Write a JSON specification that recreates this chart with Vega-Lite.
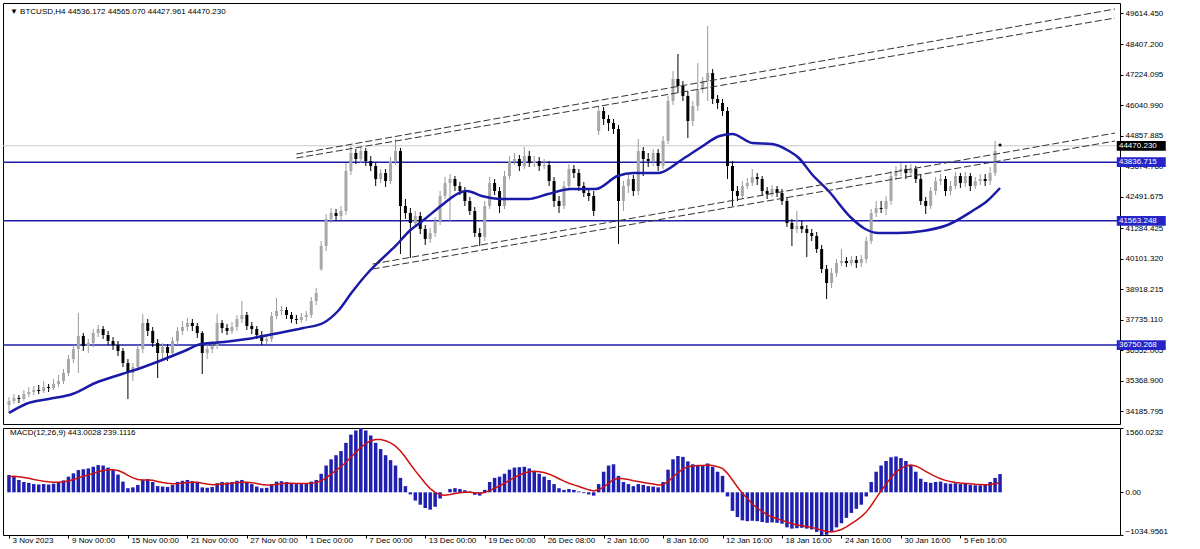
{
  "$schema": "https://vega.github.io/schema/vega-lite/v6.json",
  "padding": {"left": 1, "top": 2, "right": 0, "bottom": 0},
  "background": "#ffffff",
  "spacing": 2,
  "config": {
    "font": "Liberation Sans",
    "view": {"stroke": "#000000", "strokeWidth": 1},
    "axis": {"labelFont": "Liberation Sans", "labelFontSize": 8, "labelColor": "#000000", "tickColor": "#000000", "tickSize": 3, "domain": false, "grid": false, "title": null, "labelOverlap": false}
  },
  "datasets": {
    "bars": [
      {"i":0,"o":34428,"h":34738,"l":34118,"c":34583,"m":420,"s":380},
      {"i":1,"o":34583,"h":34854,"l":34467,"c":34699,"m":380,"s":390},
      {"i":2,"o":34699,"h":34815,"l":34506,"c":34660,"m":300,"s":380},
      {"i":3,"o":34660,"h":35009,"l":34583,"c":34854,"m":250,"s":360},
      {"i":4,"o":34854,"h":35125,"l":34738,"c":34932,"m":230,"s":340},
      {"i":5,"o":34932,"h":35164,"l":34815,"c":35009,"m":200,"s":310},
      {"i":6,"o":35009,"h":35203,"l":34854,"c":34970,"m":190,"s":290},
      {"i":7,"o":34970,"h":35358,"l":34893,"c":35125,"m":200,"s":270},
      {"i":8,"o":35125,"h":35242,"l":34932,"c":35087,"m":190,"s":255},
      {"i":9,"o":35087,"h":35435,"l":35009,"c":35242,"m":210,"s":245},
      {"i":10,"o":35242,"h":35590,"l":35125,"c":35358,"m":240,"s":245},
      {"i":11,"o":35358,"h":35823,"l":35242,"c":35668,"m":290,"s":255},
      {"i":12,"o":35668,"h":36365,"l":35551,"c":36210,"m":380,"s":275},
      {"i":13,"o":36210,"h":36752,"l":36055,"c":36597,"m":460,"s":310},
      {"i":14,"o":36597,"h":37992,"l":35668,"c":37101,"m":540,"s":350},
      {"i":15,"o":37101,"h":37217,"l":36520,"c":36714,"m":560,"s":390},
      {"i":16,"o":36714,"h":36985,"l":36443,"c":36830,"m":580,"s":420},
      {"i":17,"o":36830,"h":37372,"l":36675,"c":37217,"m":620,"s":460},
      {"i":18,"o":37217,"h":37527,"l":37062,"c":37372,"m":660,"s":500},
      {"i":19,"o":37372,"h":37488,"l":36985,"c":37140,"m":650,"s":530},
      {"i":20,"o":37140,"h":37295,"l":36752,"c":36907,"m":600,"s":550},
      {"i":21,"o":36907,"h":37062,"l":36559,"c":36752,"m":540,"s":550},
      {"i":22,"o":36752,"h":36907,"l":36326,"c":36520,"m":430,"s":530},
      {"i":23,"o":36520,"h":36636,"l":35900,"c":36055,"m":260,"s":480},
      {"i":24,"o":36055,"h":36210,"l":34660,"c":35668,"m":100,"s":410},
      {"i":25,"o":35668,"h":36055,"l":35358,"c":35900,"m":120,"s":350},
      {"i":26,"o":35900,"h":36752,"l":35745,"c":36597,"m":180,"s":310},
      {"i":27,"o":36597,"h":37953,"l":36443,"c":37605,"m":300,"s":300},
      {"i":28,"o":37605,"h":37760,"l":37101,"c":37295,"m":320,"s":300},
      {"i":29,"o":37295,"h":37450,"l":36675,"c":36830,"m":250,"s":290},
      {"i":30,"o":36830,"h":36985,"l":35474,"c":36443,"m":150,"s":265},
      {"i":31,"o":36443,"h":36830,"l":36210,"c":36675,"m":140,"s":240},
      {"i":32,"o":36675,"h":36791,"l":36133,"c":36443,"m":130,"s":220},
      {"i":33,"o":36443,"h":37062,"l":36288,"c":36907,"m":180,"s":210},
      {"i":34,"o":36907,"h":37450,"l":36752,"c":37295,"m":250,"s":215},
      {"i":35,"o":37295,"h":37682,"l":37140,"c":37450,"m":280,"s":225},
      {"i":36,"o":37450,"h":37798,"l":37295,"c":37605,"m":300,"s":240},
      {"i":37,"o":37605,"h":37760,"l":37295,"c":37488,"m":270,"s":245},
      {"i":38,"o":37488,"h":37605,"l":37024,"c":37217,"m":230,"s":245},
      {"i":39,"o":37217,"h":37295,"l":35629,"c":36443,"m":120,"s":220},
      {"i":40,"o":36443,"h":36791,"l":36210,"c":36597,"m":110,"s":200},
      {"i":41,"o":36597,"h":36907,"l":36443,"c":36714,"m":130,"s":185},
      {"i":42,"o":36714,"h":37953,"l":36597,"c":37605,"m":220,"s":190},
      {"i":43,"o":37605,"h":37721,"l":37217,"c":37411,"m":250,"s":200},
      {"i":44,"o":37411,"h":37566,"l":37140,"c":37295,"m":240,"s":210},
      {"i":45,"o":37295,"h":37643,"l":37179,"c":37450,"m":250,"s":220},
      {"i":46,"o":37450,"h":37915,"l":37295,"c":37760,"m":280,"s":230},
      {"i":47,"o":37760,"h":38457,"l":37605,"c":37915,"m":300,"s":245},
      {"i":48,"o":37915,"h":38031,"l":37334,"c":37488,"m":250,"s":245},
      {"i":49,"o":37488,"h":37643,"l":37179,"c":37372,"m":200,"s":235},
      {"i":50,"o":37372,"h":37488,"l":36985,"c":37140,"m":140,"s":215},
      {"i":51,"o":37140,"h":37295,"l":36752,"c":36907,"m":100,"s":190},
      {"i":52,"o":36907,"h":37179,"l":36791,"c":36985,"m":110,"s":175},
      {"i":53,"o":36985,"h":38031,"l":36869,"c":37876,"m":200,"s":180},
      {"i":54,"o":37876,"h":38573,"l":37760,"c":38070,"m":260,"s":195},
      {"i":55,"o":38070,"h":38263,"l":37915,"c":38108,"m":270,"s":210},
      {"i":56,"o":38108,"h":38225,"l":37760,"c":37915,"m":250,"s":220},
      {"i":57,"o":37915,"h":38031,"l":37605,"c":37760,"m":220,"s":220},
      {"i":58,"o":37760,"h":37915,"l":37566,"c":37721,"m":200,"s":215},
      {"i":59,"o":37721,"h":37992,"l":37605,"c":37837,"m":200,"s":212},
      {"i":60,"o":37837,"h":38070,"l":37682,"c":37915,"m":210,"s":212},
      {"i":61,"o":37915,"h":38612,"l":37798,"c":38457,"m":260,"s":220},
      {"i":62,"o":38457,"h":38961,"l":38302,"c":38767,"m":300,"s":235},
      {"i":63,"o":39697,"h":40781,"l":39619,"c":40588,"m":450,"s":280},
      {"i":64,"o":40588,"h":41827,"l":40394,"c":41634,"m":650,"s":350},
      {"i":65,"o":41634,"h":42060,"l":41479,"c":41866,"m":800,"s":440},
      {"i":66,"o":41866,"h":42021,"l":41556,"c":41750,"m":900,"s":530},
      {"i":67,"o":41750,"h":42137,"l":41595,"c":41944,"m":1000,"s":620},
      {"i":68,"o":41944,"h":43803,"l":41789,"c":43493,"m":1200,"s":730},
      {"i":69,"o":43493,"h":44462,"l":43338,"c":44191,"m":1400,"s":850},
      {"i":70,"o":44191,"h":44345,"l":43764,"c":43958,"m":1500,"s":970},
      {"i":71,"o":43958,"h":44423,"l":43803,"c":44268,"m":1560.0232,"s":1090},
      {"i":72,"o":44268,"h":44384,"l":43687,"c":43881,"m":1500,"s":1180},
      {"i":73,"o":43881,"h":44074,"l":43493,"c":43687,"m":1380,"s":1250},
      {"i":74,"o":43687,"h":43803,"l":42912,"c":43183,"m":1200,"s":1280},
      {"i":75,"o":43183,"h":43571,"l":43028,"c":43416,"m":1050,"s":1280},
      {"i":76,"o":43416,"h":43571,"l":42873,"c":43106,"m":900,"s":1250},
      {"i":77,"o":43106,"h":44036,"l":42990,"c":43881,"m":780,"s":1200},
      {"i":78,"o":43881,"h":44733,"l":43726,"c":44268,"m":650,"s":1120},
      {"i":79,"o":44268,"h":44384,"l":40278,"c":42137,"m":350,"s":1000},
      {"i":80,"o":42137,"h":42408,"l":41634,"c":41866,"m":150,"s":850},
      {"i":81,"o":41866,"h":42060,"l":40123,"c":41479,"m":-50,"s":680},
      {"i":82,"o":41479,"h":41944,"l":41324,"c":41750,"m":-200,"s":520},
      {"i":83,"o":41750,"h":41905,"l":41053,"c":41246,"m":-300,"s":370},
      {"i":84,"o":41246,"h":41401,"l":40626,"c":40859,"m":-380,"s":220},
      {"i":85,"o":40859,"h":41285,"l":40704,"c":41091,"m":-420,"s":90},
      {"i":86,"o":41091,"h":41711,"l":40936,"c":41556,"m":-350,"s":0},
      {"i":87,"o":41556,"h":42718,"l":41401,"c":42525,"m":-150,"s":-60},
      {"i":88,"o":42525,"h":43261,"l":42408,"c":43028,"m":0,"s":-70},
      {"i":89,"o":43028,"h":43377,"l":41556,"c":43183,"m":80,"s":-55},
      {"i":90,"o":43183,"h":43299,"l":42718,"c":42912,"m":100,"s":-30},
      {"i":91,"o":42912,"h":43067,"l":42563,"c":42718,"m":80,"s":-10},
      {"i":92,"o":42718,"h":42873,"l":42137,"c":42331,"m":50,"s":0},
      {"i":93,"o":42331,"h":42486,"l":41789,"c":41944,"m":20,"s":0},
      {"i":94,"o":41944,"h":42099,"l":40936,"c":41091,"m":-60,"s":-10},
      {"i":95,"o":41091,"h":41285,"l":40588,"c":40936,"m":-80,"s":-20},
      {"i":96,"o":40936,"h":42331,"l":40781,"c":42137,"m":60,"s":-5},
      {"i":97,"o":42137,"h":43261,"l":42021,"c":43028,"m":250,"s":40},
      {"i":98,"o":43028,"h":43183,"l":42563,"c":42718,"m":350,"s":100},
      {"i":99,"o":42718,"h":42873,"l":41866,"c":42137,"m":380,"s":160},
      {"i":100,"o":42137,"h":43493,"l":42021,"c":43299,"m":450,"s":220},
      {"i":101,"o":43299,"h":44074,"l":43183,"c":43881,"m":550,"s":290},
      {"i":102,"o":43881,"h":44191,"l":43726,"c":43958,"m":600,"s":360},
      {"i":103,"o":43958,"h":44113,"l":43493,"c":43687,"m":610,"s":420},
      {"i":104,"o":43687,"h":44423,"l":43571,"c":44074,"m":620,"s":470},
      {"i":105,"o":44074,"h":44268,"l":43648,"c":43803,"m":580,"s":500},
      {"i":106,"o":43803,"h":44074,"l":43648,"c":43881,"m":520,"s":510},
      {"i":107,"o":43881,"h":44036,"l":43493,"c":43687,"m":450,"s":500},
      {"i":108,"o":43687,"h":43958,"l":43571,"c":43726,"m":380,"s":480},
      {"i":109,"o":43726,"h":43881,"l":42912,"c":43106,"m":300,"s":440},
      {"i":110,"o":43106,"h":43261,"l":42099,"c":42331,"m":200,"s":390},
      {"i":111,"o":42331,"h":42525,"l":41866,"c":42137,"m":100,"s":330},
      {"i":112,"o":42137,"h":43106,"l":42021,"c":42912,"m":60,"s":270},
      {"i":113,"o":42912,"h":43764,"l":42796,"c":43571,"m":80,"s":220},
      {"i":114,"o":43571,"h":43726,"l":43222,"c":43416,"m":60,"s":180},
      {"i":115,"o":43416,"h":43571,"l":42718,"c":42912,"m":20,"s":140},
      {"i":116,"o":42912,"h":43067,"l":42486,"c":42641,"m":-20,"s":100},
      {"i":117,"o":42641,"h":42796,"l":42331,"c":42525,"m":-50,"s":60},
      {"i":118,"o":42525,"h":42718,"l":41750,"c":41944,"m":-80,"s":30},
      {"i":119,"o":45043,"h":46011,"l":44888,"c":45818,"m":200,"s":60},
      {"i":120,"o":45818,"h":45973,"l":45275,"c":45508,"m":500,"s":130},
      {"i":121,"o":45508,"h":45663,"l":45043,"c":45353,"m":650,"s":220},
      {"i":122,"o":45353,"h":45508,"l":44927,"c":45120,"m":680,"s":310},
      {"i":123,"o":45120,"h":45275,"l":40665,"c":42331,"m":400,"s":340},
      {"i":124,"o":42331,"h":43106,"l":41944,"c":42912,"m":250,"s":330},
      {"i":125,"o":42912,"h":43416,"l":42641,"c":43183,"m":200,"s":310},
      {"i":126,"o":43183,"h":43338,"l":42525,"c":42718,"m":150,"s":280},
      {"i":127,"o":42718,"h":44733,"l":42563,"c":44268,"m":200,"s":260},
      {"i":128,"o":44268,"h":44423,"l":43299,"c":43958,"m":180,"s":240},
      {"i":129,"o":43958,"h":44191,"l":43648,"c":43881,"m":150,"s":220},
      {"i":130,"o":43881,"h":44345,"l":43687,"c":44191,"m":140,"s":200},
      {"i":131,"o":44191,"h":44345,"l":43493,"c":43687,"m":120,"s":180},
      {"i":132,"o":43687,"h":44849,"l":43571,"c":44655,"m":250,"s":190},
      {"i":133,"o":44655,"h":46399,"l":44539,"c":46205,"m":550,"s":260},
      {"i":134,"o":46205,"h":47367,"l":46050,"c":47057,"m":800,"s":370},
      {"i":135,"o":47057,"h":48026,"l":46515,"c":46786,"m":880,"s":480},
      {"i":136,"o":46786,"h":46980,"l":46205,"c":46399,"m":860,"s":570},
      {"i":137,"o":46399,"h":46592,"l":44772,"c":45430,"m":750,"s":620},
      {"i":138,"o":45430,"h":46205,"l":45236,"c":46011,"m":680,"s":640},
      {"i":139,"o":46011,"h":47677,"l":45818,"c":46670,"m":650,"s":650},
      {"i":140,"o":46670,"h":47135,"l":46515,"c":46980,"m":660,"s":650},
      {"i":141,"o":46980,"h":49110,"l":46205,"c":47290,"m":700,"s":660},
      {"i":142,"o":47290,"h":47445,"l":46089,"c":46282,"m":620,"s":650},
      {"i":143,"o":46282,"h":46437,"l":45895,"c":46128,"m":500,"s":620},
      {"i":144,"o":46128,"h":46282,"l":45624,"c":45818,"m":400,"s":580},
      {"i":145,"o":45818,"h":45973,"l":43183,"c":43687,"m":-100,"s":460},
      {"i":146,"o":43687,"h":43881,"l":42137,"c":42718,"m":-450,"s":300},
      {"i":147,"o":42718,"h":42912,"l":42331,"c":42525,"m":-600,"s":130},
      {"i":148,"o":42525,"h":43106,"l":42408,"c":42912,"m":-680,"s":-20},
      {"i":149,"o":42912,"h":43222,"l":42796,"c":43028,"m":-700,"s":-150},
      {"i":150,"o":43028,"h":43571,"l":42912,"c":43261,"m":-690,"s":-280},
      {"i":151,"o":43261,"h":43416,"l":42951,"c":43183,"m":-700,"s":-380},
      {"i":152,"o":43183,"h":43299,"l":42525,"c":42718,"m":-720,"s":-470},
      {"i":153,"o":42718,"h":42873,"l":42408,"c":42602,"m":-740,"s":-540},
      {"i":154,"o":42602,"h":42951,"l":42486,"c":42796,"m":-730,"s":-600},
      {"i":155,"o":42796,"h":42912,"l":42486,"c":42641,"m":-740,"s":-640},
      {"i":156,"o":42641,"h":42796,"l":42176,"c":42331,"m":-760,"s":-680},
      {"i":157,"o":42331,"h":42486,"l":41324,"c":41479,"m":-850,"s":-720},
      {"i":158,"o":41479,"h":41634,"l":40588,"c":41246,"m":-880,"s":-760},
      {"i":159,"o":41246,"h":41944,"l":41091,"c":41362,"m":-870,"s":-790},
      {"i":160,"o":41362,"h":41556,"l":41091,"c":41246,"m":-860,"s":-810},
      {"i":161,"o":41246,"h":41401,"l":40162,"c":41091,"m":-880,"s":-830},
      {"i":162,"o":41091,"h":41246,"l":40781,"c":40975,"m":-900,"s":-850},
      {"i":163,"o":40975,"h":41130,"l":40317,"c":40471,"m":-960,"s":-880},
      {"i":164,"o":40471,"h":40626,"l":39542,"c":39697,"m":-1034.9561,"s":-920},
      {"i":165,"o":39697,"h":39852,"l":38534,"c":39154,"m":-1030,"s":-950},
      {"i":166,"o":39154,"h":39735,"l":38961,"c":39542,"m":-950,"s":-960},
      {"i":167,"o":39542,"h":40084,"l":39387,"c":39929,"m":-850,"s":-940},
      {"i":168,"o":39929,"h":40471,"l":39813,"c":40007,"m":-750,"s":-900},
      {"i":169,"o":40007,"h":40162,"l":39774,"c":39929,"m":-620,"s":-840},
      {"i":170,"o":39929,"h":40200,"l":39813,"c":40045,"m":-500,"s":-760},
      {"i":171,"o":40045,"h":40200,"l":39735,"c":39929,"m":-400,"s":-680},
      {"i":172,"o":39929,"h":40239,"l":39774,"c":40084,"m":-300,"s":-590},
      {"i":173,"o":40084,"h":40936,"l":39929,"c":40781,"m":-100,"s":-480},
      {"i":174,"o":40781,"h":42021,"l":40665,"c":41866,"m":250,"s":-320},
      {"i":175,"o":41866,"h":42331,"l":41711,"c":42060,"m":500,"s":-140},
      {"i":176,"o":42060,"h":42331,"l":41866,"c":42021,"m":650,"s":40},
      {"i":177,"o":42021,"h":42525,"l":41789,"c":42331,"m":760,"s":200},
      {"i":178,"o":42331,"h":43493,"l":42176,"c":43299,"m":850,"s":360},
      {"i":179,"o":43299,"h":43687,"l":43145,"c":43493,"m":870,"s":490},
      {"i":180,"o":43493,"h":43803,"l":43299,"c":43571,"m":830,"s":580},
      {"i":181,"o":43571,"h":43726,"l":43183,"c":43416,"m":760,"s":640},
      {"i":182,"o":43416,"h":43764,"l":43261,"c":43571,"m":650,"s":660},
      {"i":183,"o":43571,"h":43687,"l":43028,"c":43183,"m":500,"s":640},
      {"i":184,"o":43183,"h":43338,"l":42176,"c":42331,"m":330,"s":580},
      {"i":185,"o":42331,"h":42486,"l":41827,"c":42137,"m":250,"s":510},
      {"i":186,"o":42137,"h":42873,"l":42021,"c":42718,"m":230,"s":440},
      {"i":187,"o":42718,"h":43261,"l":42563,"c":43106,"m":250,"s":380},
      {"i":188,"o":43106,"h":43377,"l":42951,"c":43183,"m":260,"s":330},
      {"i":189,"o":43183,"h":43299,"l":42525,"c":42718,"m":220,"s":290},
      {"i":190,"o":42718,"h":43106,"l":42563,"c":42912,"m":210,"s":260},
      {"i":191,"o":42912,"h":43454,"l":42796,"c":43299,"m":220,"s":240},
      {"i":192,"o":43299,"h":43416,"l":42835,"c":43028,"m":200,"s":225},
      {"i":193,"o":43028,"h":43454,"l":42873,"c":43299,"m":210,"s":215},
      {"i":194,"o":43299,"h":43416,"l":42718,"c":42912,"m":180,"s":205},
      {"i":195,"o":42912,"h":43261,"l":42796,"c":43106,"m":170,"s":195},
      {"i":196,"o":43106,"h":43377,"l":42951,"c":43183,"m":170,"s":190},
      {"i":197,"o":43183,"h":43377,"l":42912,"c":43106,"m":190,"s":185},
      {"i":198,"o":43106,"h":43648,"l":42951,"c":43416,"m":250,"s":190},
      {"i":199,"o":43416,"h":44655,"l":43299,"c":44268,"m":350,"s":210},
      {"i":200,"o":44536.172,"h":44565.07,"l":44427.961,"c":44470.23,"m":443.0028,"s":239.1116}
    ],
    "ma": [
      {"i":0,"v":34118},{"i":3.4,"v":34467},{"i":8,"v":34660},{"i":12.8,"v":34854},{"i":17.4,"v":35280},
      {"i":22.8,"v":35629},{"i":26,"v":35823},{"i":31.4,"v":36210},{"i":35.4,"v":36520},{"i":38.8,"v":36791},
      {"i":43.4,"v":36869},{"i":48,"v":36985},{"i":53.4,"v":37179},{"i":59.4,"v":37411},{"i":63.4,"v":37605},
      {"i":66.4,"v":38070},{"i":69.4,"v":38844},{"i":72.4,"v":39542},{"i":74.8,"v":40007},{"i":78,"v":40588},
      {"i":80.8,"v":41169},{"i":83.4,"v":41556},{"i":87.4,"v":42176},{"i":90.4,"v":42602},{"i":92.4,"v":42718},
      {"i":95.4,"v":42525},{"i":99.4,"v":42408},{"i":104.8,"v":42408},{"i":108.8,"v":42602},{"i":113.4,"v":42796},
      {"i":118.4,"v":42796},{"i":122.8,"v":43299},{"i":126,"v":43416},{"i":131,"v":43416},{"i":136,"v":43958},
      {"i":139.4,"v":44384},{"i":143.4,"v":44849},{"i":146,"v":44927},{"i":150,"v":44578},{"i":154,"v":44539},
      {"i":157.4,"v":44268},{"i":159.4,"v":43997},{"i":162,"v":43377},{"i":165.4,"v":42718},{"i":170,"v":41673},
      {"i":172.8,"v":41246},{"i":175.4,"v":41091},{"i":179.4,"v":41091},{"i":184.4,"v":41169},{"i":189.4,"v":41401},
      {"i":194.4,"v":41944},{"i":197.4,"v":42331},{"i":200,"v":42835}
    ],
    "chan": [
      {"id":"a","i":58,"p":44152},{"id":"a","i":223.2,"p":49769},
      {"id":"b","i":58,"p":43997},{"id":"b","i":223.2,"p":49420},
      {"id":"c","i":73.4,"p":39890},{"id":"c","i":223.2,"p":44965},
      {"id":"d","i":73.4,"p":39697},{"id":"d","i":223.2,"p":44655}
    ],
    "tags": [
      {"p":44470.23,"t":"44470.230","k":"bid"},
      {"p":43836.715,"t":"43836.715","k":"level"},
      {"p":41563.248,"t":"41563.248","k":"level"},
      {"p":36750.268,"t":"36750.268","k":"level"}
    ]
  },
  "vconcat": [
    {
      "width": 1117,
      "height": 421,
      "layer": [
        {
          "data": {"name": "tags"},
          "transform": [{"filter": "datum.k == 'bid'"}],
          "mark": {"type": "rule", "color": "#c8c8c8", "strokeWidth": 1},
          "encoding": {"y": {"field": "p", "type": "quantitative", "scale": {"domain": [33692, 50002], "nice": false, "zero": false},
            "axis": {"orient": "right", "values": [49614.45, 48407.2, 47224.095, 46040.99, 44857.885, 43674.78, 42491.675, 41284.425, 40101.32, 38918.215, 37735.11, 36552.005, 35368.9, 34185.795], "format": ".3f", "labelPadding": 2, "title": null}}}
        },
        {
          "data": {"name": "tags"},
          "transform": [{"filter": "datum.k == 'level'"}],
          "mark": {"type": "rule", "color": "#1c1cae", "strokeWidth": 1.5},
          "encoding": {"y": {"field": "p", "type": "quantitative", "scale": {"domain": [33692, 50002], "nice": false, "zero": false},
            "axis": {"orient": "right", "values": [49614.45, 48407.2, 47224.095, 46040.99, 44857.885, 43674.78, 42491.675, 41284.425, 40101.32, 38918.215, 37735.11, 36552.005, 35368.9, 34185.795], "format": ".3f", "labelPadding": 2, "title": null}}}
        },
        {
          "data": {"name": "bars"},
          "mark": {"type": "rule", "strokeWidth": 1},
          "encoding": {
            "x": {"field": "i", "type": "quantitative", "scale": {"domain": [-0.2, 223.2], "nice": false, "zero": false}, "axis": null},
            "y": {"field": "l", "type": "quantitative", "scale": {"domain": [33692, 50002], "nice": false, "zero": false},
              "axis": {"orient": "right", "values": [49614.45, 48407.2, 47224.095, 46040.99, 44857.885, 43674.78, 42491.675, 41284.425, 40101.32, 38918.215, 37735.11, 36552.005, 35368.9, 34185.795], "format": ".3f", "labelPadding": 2, "title": null}},
            "y2": {"field": "h"},
            "color": {"condition": {"test": "datum.c >= datum.o", "value": "#9a9a9a"}, "value": "#000000"}
          }
        },
        {
          "data": {"name": "bars"},
          "mark": {"type": "bar", "size": 3},
          "encoding": {
            "x": {"field": "i", "type": "quantitative", "scale": {"domain": [-0.2, 223.2], "nice": false, "zero": false}, "axis": null},
            "y": {"field": "o", "type": "quantitative", "scale": {"domain": [33692, 50002], "nice": false, "zero": false},
              "axis": {"orient": "right", "values": [49614.45, 48407.2, 47224.095, 46040.99, 44857.885, 43674.78, 42491.675, 41284.425, 40101.32, 38918.215, 37735.11, 36552.005, 35368.9, 34185.795], "format": ".3f", "labelPadding": 2, "title": null}},
            "y2": {"field": "c"},
            "color": {"condition": {"test": "datum.c >= datum.o", "value": "#a8a8a8"}, "value": "#000000"}
          }
        },
        {
          "data": {"name": "ma"},
          "mark": {"type": "line", "color": "#1a1aa8", "strokeWidth": 2.5, "interpolate": "monotone"},
          "encoding": {
            "x": {"field": "i", "type": "quantitative", "scale": {"domain": [-0.2, 223.2], "nice": false, "zero": false}, "axis": null},
            "y": {"field": "v", "type": "quantitative", "scale": {"domain": [33692, 50002], "nice": false, "zero": false},
              "axis": {"orient": "right", "values": [49614.45, 48407.2, 47224.095, 46040.99, 44857.885, 43674.78, 42491.675, 41284.425, 40101.32, 38918.215, 37735.11, 36552.005, 35368.9, 34185.795], "format": ".3f", "labelPadding": 2, "title": null}}
          }
        },
        {
          "data": {"name": "chan"},
          "mark": {"type": "line", "color": "#333333", "strokeWidth": 1, "strokeDash": [7, 3]},
          "encoding": {
            "x": {"field": "i", "type": "quantitative", "scale": {"domain": [-0.2, 223.2], "nice": false, "zero": false}, "axis": null},
            "y": {"field": "p", "type": "quantitative", "scale": {"domain": [33692, 50002], "nice": false, "zero": false},
              "axis": {"orient": "right", "values": [49614.45, 48407.2, 47224.095, 46040.99, 44857.885, 43674.78, 42491.675, 41284.425, 40101.32, 38918.215, 37735.11, 36552.005, 35368.9, 34185.795], "format": ".3f", "labelPadding": 2, "title": null}},
            "detail": {"field": "id", "type": "nominal"}
          }
        },
        {
          "data": {"values": [{"t": "▼ BTCUSD,H4  44536.172 44565.070 44427.961 44470.230"}]},
          "mark": {"type": "text", "align": "left", "baseline": "middle", "fontSize": 8, "color": "#000000"},
          "encoding": {
            "x": {"datum": 0.2, "type": "quantitative", "scale": {"domain": [-0.2, 223.2], "nice": false, "zero": false}, "axis": null},
            "y": {"datum": 49653, "type": "quantitative", "scale": {"domain": [33692, 50002], "nice": false, "zero": false},
              "axis": {"orient": "right", "values": [49614.45, 48407.2, 47224.095, 46040.99, 44857.885, 43674.78, 42491.675, 41284.425, 40101.32, 38918.215, 37735.11, 36552.005, 35368.9, 34185.795], "format": ".3f", "labelPadding": 2, "title": null}},
            "text": {"field": "t"}
          }
        },
        {
          "data": {"name": "tags"},
          "mark": {"type": "point", "shape": "M-1,-0.2H1V0.2H-1Z", "size": 2401, "filled": true, "opacity": 1, "clip": false},
          "encoding": {
            "x": {"datum": 228.5, "type": "quantitative", "scale": {"domain": [-0.2, 223.2], "nice": false, "zero": false}, "axis": null},
            "y": {"field": "p", "type": "quantitative", "scale": {"domain": [33692, 50002], "nice": false, "zero": false},
              "axis": {"orient": "right", "values": [49614.45, 48407.2, 47224.095, 46040.99, 44857.885, 43674.78, 42491.675, 41284.425, 40101.32, 38918.215, 37735.11, 36552.005, 35368.9, 34185.795], "format": ".3f", "labelPadding": 2, "title": null}},
            "color": {"field": "k", "type": "nominal", "scale": {"domain": ["bid", "level"], "range": ["#000000", "#2424c8"]}, "legend": null}
          }
        },
        {
          "data": {"name": "tags"},
          "mark": {"type": "text", "align": "left", "baseline": "middle", "fontSize": 8, "color": "#ffffff", "clip": false},
          "encoding": {
            "x": {"datum": 224.0, "type": "quantitative", "scale": {"domain": [-0.2, 223.2], "nice": false, "zero": false}, "axis": null},
            "y": {"field": "p", "type": "quantitative", "scale": {"domain": [33692, 50002], "nice": false, "zero": false},
              "axis": {"orient": "right", "values": [49614.45, 48407.2, 47224.095, 46040.99, 44857.885, 43674.78, 42491.675, 41284.425, 40101.32, 38918.215, 37735.11, 36552.005, 35368.9, 34185.795], "format": ".3f", "labelPadding": 2, "title": null}},
            "text": {"field": "t"}
          }
        }
      ]
    },
    {
      "width": 1117,
      "height": 107,
      "layer": [
        {
          "data": {"name": "bars"},
          "mark": {"type": "bar", "size": 3.5, "color": "#1f1fb0"},
          "encoding": {
            "x": {"field": "i", "type": "quantitative", "scale": {"domain": [-0.2, 223.2], "nice": false, "zero": false},
              "axis": {"orient": "bottom", "values": [0, 12, 24, 36, 48, 60, 72, 84, 96, 108, 120, 132, 144, 156, 168, 180, 192],
                "labelExpr": "['3 Nov 2023','9 Nov 00:00','15 Nov 00:00','21 Nov 00:00','27 Nov 00:00','1 Dec 00:00','7 Dec 00:00','13 Dec 00:00','19 Dec 00:00','26 Dec 08:00','2 Jan 16:00','8 Jan 16:00','12 Jan 16:00','18 Jan 16:00','24 Jan 16:00','30 Jan 16:00','5 Feb 16:00'][round(datum.value / 12)]",
                "labelAlign": "left", "labelBaseline": "top", "labelPadding": -2, "labelOffset": 3, "labelFlush": false, "labelBound": false, "title": null}},
            "y": {"field": "m", "type": "quantitative", "scale": {"domain": [-1034.9561, 1560.0232], "nice": false, "zero": false},
              "axis": {"orient": "right", "values": [1560.0232, 0, -1034.9561], "labelExpr": "datum.value == 0 ? '0.00' : format(datum.value, '.4f')", "labelFlush": true, "labelPadding": 2, "title": null}},
            "y2": {"datum": 0}
          }
        },
        {
          "data": {"name": "bars"},
          "mark": {"type": "line", "color": "#d01010", "strokeWidth": 1.5},
          "encoding": {
            "x": {"field": "i", "type": "quantitative", "scale": {"domain": [-0.2, 223.2], "nice": false, "zero": false},
              "axis": {"orient": "bottom", "values": [0, 12, 24, 36, 48, 60, 72, 84, 96, 108, 120, 132, 144, 156, 168, 180, 192],
                "labelExpr": "['3 Nov 2023','9 Nov 00:00','15 Nov 00:00','21 Nov 00:00','27 Nov 00:00','1 Dec 00:00','7 Dec 00:00','13 Dec 00:00','19 Dec 00:00','26 Dec 08:00','2 Jan 16:00','8 Jan 16:00','12 Jan 16:00','18 Jan 16:00','24 Jan 16:00','30 Jan 16:00','5 Feb 16:00'][round(datum.value / 12)]",
                "labelAlign": "left", "labelBaseline": "top", "labelPadding": -2, "labelOffset": 3, "labelFlush": false, "labelBound": false, "title": null}},
            "y": {"field": "s", "type": "quantitative", "scale": {"domain": [-1034.9561, 1560.0232], "nice": false, "zero": false},
              "axis": {"orient": "right", "values": [1560.0232, 0, -1034.9561], "labelExpr": "datum.value == 0 ? '0.00' : format(datum.value, '.4f')", "labelFlush": true, "labelPadding": 2, "title": null}}
          }
        },
        {
          "data": {"values": [{"t": "MACD(12,26,9) 443.0028 239.1116"}]},
          "mark": {"type": "text", "align": "left", "baseline": "middle", "fontSize": 8, "color": "#000000"},
          "encoding": {
            "x": {"datum": 0.2, "type": "quantitative", "scale": {"domain": [-0.2, 223.2], "nice": false, "zero": false},
              "axis": {"orient": "bottom", "values": [0, 12, 24, 36, 48, 60, 72, 84, 96, 108, 120, 132, 144, 156, 168, 180, 192],
                "labelExpr": "['3 Nov 2023','9 Nov 00:00','15 Nov 00:00','21 Nov 00:00','27 Nov 00:00','1 Dec 00:00','7 Dec 00:00','13 Dec 00:00','19 Dec 00:00','26 Dec 08:00','2 Jan 16:00','8 Jan 16:00','12 Jan 16:00','18 Jan 16:00','24 Jan 16:00','30 Jan 16:00','5 Feb 16:00'][round(datum.value / 12)]",
                "labelAlign": "left", "labelBaseline": "top", "labelPadding": -2, "labelOffset": 3, "labelFlush": false, "labelBound": false, "title": null}},
            "y": {"datum": 1440, "type": "quantitative", "scale": {"domain": [-1034.9561, 1560.0232], "nice": false, "zero": false},
              "axis": {"orient": "right", "values": [1560.0232, 0, -1034.9561], "labelExpr": "datum.value == 0 ? '0.00' : format(datum.value, '.4f')", "labelFlush": true, "labelPadding": 2, "title": null}},
            "text": {"field": "t"}
          }
        }
      ]
    }
  ]
}
